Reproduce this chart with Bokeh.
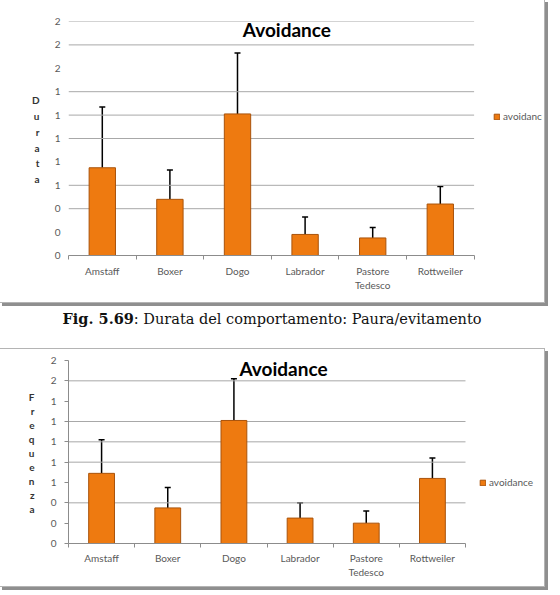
from bokeh.plotting import figure
from bokeh.models import (ColumnDataSource, Range1d, FixedTicker, LinearAxis,
                          Whisker, TeeHead, Label, Legend, LegendItem,
                          NumeralTickFormatter, Div, CustomJSTickFormatter)
from bokeh.layouts import column
from bokeh.embed import file_html
from bokeh.resources import INLINE

categories = ["Amstaff", "Boxer", "Dogo", "Labrador", "Pastore Tedesco", "Rottweiler"]
category_labels = ["Amstaff", "Boxer", "Dogo", "Labrador", "Pastore\nTedesco", "Rottweiler"]

# Chart 1: Durata (duration)
durata_mean = [0.75, 0.48, 1.21, 0.18, 0.15, 0.44]
durata_sd = [0.52, 0.25, 0.52, 0.15, 0.09, 0.15]
durata_ticks = [0, 0.2, 0.4, 0.6, 0.8, 1.0, 1.2, 1.4, 1.6, 1.8, 2.0]
durata_grid = [0.4, 0.6, 1.0, 1.2, 1.4, 1.8, 2.0]

# Chart 2: Frequenza (frequency)
freq_mean = [0.69, 0.35, 1.21, 0.25, 0.20, 0.64]
freq_sd = [0.33, 0.20, 0.41, 0.15, 0.12, 0.20]
freq_ticks = [0, 0.2, 0.4, 0.6, 0.8, 1.0, 1.2, 1.4, 1.6, 1.8]
freq_grid = [0.4, 0.8, 1.0, 1.2, 1.6]

chart_title = "Avoidance"
series_name = "avoidance"
caption_bold = "Fig. 5.69"
caption_rest = ": Durata del comportamento: Paura/evitamento"

FONT = "Lato"
BAR_FILL = "#EE7A10"
BAR_LINE = "#A9530B"
GRID = "#a8a8a8"
AXIS = "#8c8c8c"
TICK_TXT = "#595959"
BOX_STYLE = {"box-shadow": "0 0 0 1px #b4b4b4, 3px 3px 0 1px #8f8f8f"}
PLOT_W = 544

n = len(categories)
centers = [i + 0.5 for i in range(n)]
bounds = list(range(n + 1))


def make_chart(ylabel, means, sds, ticks, grid, height, borders, cat_px, title_xy,
               ylab_center, ylab_step, ylab_standoff, xlab_standoff, legend_loc, y_axis_line):
    upper = [m + s for m, s in zip(means, sds)]
    src = ColumnDataSource(dict(x=centers, cat=categories, val=means, up=upper))
    bl, br, bt, bb = borders
    # the plotting area also hosts the legend on the right; categories fill cat_px of it
    xmax = n * (PLOT_W - bl - br) / cat_px
    p = figure(x_range=Range1d(0, xmax), y_range=Range1d(0, ticks[-1]),
               width=PLOT_W, height=height, output_backend="svg", toolbar_location=None,
               x_axis_location=None, min_border_left=bl, min_border_right=br,
               min_border_top=bt, min_border_bottom=bb)
    p.outline_line_color = None
    p.styles = BOX_STYLE
    p.xgrid.visible = False
    p.ygrid.visible = False

    # horizontal gridlines spanning the category area only
    gsrc = ColumnDataSource(dict(y=grid, x0=[0] * len(grid), x1=[n] * len(grid)))
    p.segment(x0="x0", x1="x1", y0="y", y1="y", source=gsrc, line_color=GRID, line_width=1)

    # y axis
    ya = p.yaxis[0]
    ya.ticker = FixedTicker(ticks=ticks)
    ya.formatter = NumeralTickFormatter(format="0")
    ya.major_label_text_font = FONT
    ya.major_label_text_font_size = "10px"
    ya.major_label_text_color = TICK_TXT
    ya.minor_tick_line_color = None
    ya.major_tick_in = 0
    ya.major_label_standoff = 8
    if y_axis_line:
        ya.axis_line_color = AXIS
        ya.major_tick_line_color = AXIS
        ya.major_tick_out = 4
    else:
        ya.axis_line_color = None
        ya.major_tick_line_color = None
        ya.major_tick_out = 0

    # vertical axis title, one letter per line
    letters = list(ylabel)
    k = len(letters)
    lpos = [ylab_center + ylab_step * ((k - 1) / 2 - i) for i in range(k)]
    la = LinearAxis(ticker=FixedTicker(ticks=lpos),
                    formatter=CustomJSTickFormatter(
                        args=dict(letters=letters, pos=lpos),
                        code="let b=0; for (let i=0;i<pos.length;i++){ if (Math.abs(pos[i]-tick)<Math.abs(pos[b]-tick)) b=i; } return letters[b];"),
                    axis_line_color=None, major_tick_line_color=None,
                    minor_tick_line_color=None, major_tick_out=0, major_tick_in=0,
                    major_label_standoff=ylab_standoff, major_label_text_font=FONT,
                    major_label_text_font_style="bold", major_label_text_font_size="10px",
                    major_label_text_color="#333333")
    p.add_layout(la, "left")

    # x axis: names at category centres, small ticks between categories
    xa = LinearAxis(ticker=FixedTicker(ticks=centers, minor_ticks=bounds),
                    bounds=(0, n),
                    formatter=CustomJSTickFormatter(args=dict(labels=category_labels),
                                                    code="return labels[Math.floor(tick)]"),
                    axis_line_color=AXIS, major_tick_line_color=None,
                    major_tick_out=0, major_tick_in=0,
                    minor_tick_line_color=AXIS, minor_tick_out=4, minor_tick_in=0,
                    major_label_text_font=FONT, major_label_text_font_size="10px",
                    major_label_text_color=TICK_TXT, major_label_standoff=xlab_standoff)
    p.add_layout(xa, "below")

    r = p.vbar(x="x", top="val", width=0.39, source=src, fill_color=BAR_FILL,
               line_color=BAR_LINE, line_width=1)
    w = Whisker(base="x", lower="val", upper="up", source=src, dimension="height",
                line_color="black", line_width=1.5, lower_head=None,
                upper_head=TeeHead(size=6, line_color="black", line_width=1.5))
    p.add_layout(w)

    leg = Legend(items=[LegendItem(label=series_name, renderers=[r])], location=legend_loc,
                 border_line_color=None, background_fill_alpha=0, padding=0, margin=0,
                 glyph_width=7, glyph_height=7, label_standoff=3,
                 label_text_font=FONT, label_text_font_size="10px", label_text_color=TICK_TXT,
                 label_height=12)
    p.add_layout(leg, "center")

    p.add_layout(Label(x=title_xy[0], y=title_xy[1], text=chart_title, text_font=FONT,
                       text_font_style="bold", text_font_size="19px", text_color="black",
                       text_align="center", text_baseline="middle"))
    return p


p1 = make_chart("Durata", durata_mean, durata_sd, durata_ticks, durata_grid, 302,
                (50, 2, 21, 47), 421, (3.23, 1.93), 0.99, 0.135, 12, 5, (425, 133), False)
cap = Div(text=('<div style="width:544px;padding-top:7px;text-align:center;'
                'font-family:\'DejaVu Serif\';font-size:14.5px;color:#111;">'
                f'<b>{caption_bold}</b>{caption_rest}</div>'),
          width=544, height=47, margin=0)
p2 = make_chart("Frequenza", freq_mean, freq_sd, freq_ticks, freq_grid, 237,
                (68, 2, 11, 43), 397, (3.25, 1.72), 0.8865, 0.138, 13, 4, (411, 55), True)

layout = column(p1, cap, p2, spacing=0)
open("out.html", "w").write(file_html(layout, INLINE))
